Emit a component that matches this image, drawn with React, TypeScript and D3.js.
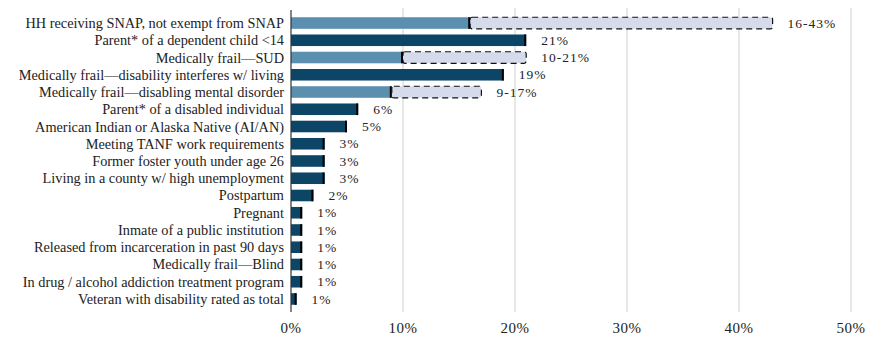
import React from "react";
import * as d3 from "d3";

const categories = [
  "HH receiving SNAP, not exempt from SNAP",
  "Parent* of a dependent child <14",
  "Medically frail\u2014SUD",
  "Medically frail\u2014disability interferes w/ living",
  "Medically frail\u2014disabling mental disorder",
  "Parent* of a disabled individual",
  "American Indian or Alaska Native (AI/AN)",
  "Meeting TANF work requirements",
  "Former foster youth under age 26",
  "Living in a county w/ high unemployment",
  "Postpartum",
  "Pregnant",
  "Inmate of a public institution",
  "Released from incarceration in past 90 days",
  "Medically frail\u2014Blind",
  "In drug / alcohol addiction treatment program",
  "Veteran with disability rated as total",
];
// lower (solid) value
const lowValues = [16, 21, 10, 19, 9, 6, 5, 3, 3, 3, 2, 1, 1, 1, 1, 1, 0.5];
// upper bound for ranges (null if single value)
const highValues: (number | null)[] = [43, null, 21, null, 17, null, null, null, null, null, null, null, null, null, null, null, null];
const valueLabels = ["16-43%", "21%", "10-21%", "19%", "9-17%", "6%", "5%", "3%", "3%", "3%", "2%", "1%", "1%", "1%", "1%", "1%", "1%"];
const xTicks = [0, 10, 20, 30, 40, 50];

const W = 869;
const H = 345;

export default function App() {
  const x = d3.scaleLinear().domain([0, 50]).range([291, 851]);
  const y = d3
    .scaleBand<string>()
    .domain(categories)
    .range([14.4, 307.6])
    .paddingInner(0.33)
    .paddingOuter(0.165);
  const bh = y.bandwidth();
  const font = "'Liberation Serif', serif";

  return (
    <svg width={W} height={H} style={{ position: "absolute", left: 0, top: 0, background: "#fff" }}>
      {xTicks.slice(1).map((t) => (
        <line key={t} x1={x(t)} x2={x(t)} y1={8} y2={312} stroke="#cfcfcf" strokeWidth={1} />
      ))}
      {xTicks.map((t) => (
        <text key={t} x={x(t)} y={333} textAnchor="middle" fontFamily={font} fontSize={15} fill="#222" letterSpacing={0.5}>
          {t}%
        </text>
      ))}
      {categories.map((c, i) => {
        const y0 = y(c)!;
        const lo = lowValues[i];
        const hi = highValues[i];
        const isRange = hi !== null;
        const end = isRange ? (hi as number) : lo;
        return (
          <g key={c}>
            {isRange && (
              <rect
                x={x(lo)}
                y={y0}
                width={x(hi as number) - x(lo)}
                height={bh}
                fill="#d5dbea"
                stroke="#111"
                strokeWidth={1.2}
                strokeDasharray="6 4"
                rx={2}
              />
            )}
            <rect
              x={x(0)}
              y={y0}
              width={x(lo) - x(0)}
              height={bh}
              fill={isRange ? "#5b8fb0" : "#0c4565"}
            />
            <line x1={x(lo) - 1} x2={x(lo) - 1} y1={y0} y2={y0 + bh} stroke="#000" strokeWidth={2} />
            <text
              x={284}
              y={y0 + bh / 2}
              dy="0.35em"
              textAnchor="end"
              fontFamily={font}
              fontSize={14.3}
              fill="#222"
            >
              {c}
            </text>
            <text
              x={x(end) + 15}
              y={y0 + bh / 2}
              dy="0.35em"
              fontFamily={font}
              fontSize={13.5}
              fill="#222"
              letterSpacing={1}
            >
              {valueLabels[i]}
            </text>
          </g>
        );
      })}
      <line x1={x(0)} x2={x(0)} y1={10} y2={312} stroke="#333" strokeWidth={1.2} />
    </svg>
  );
}
